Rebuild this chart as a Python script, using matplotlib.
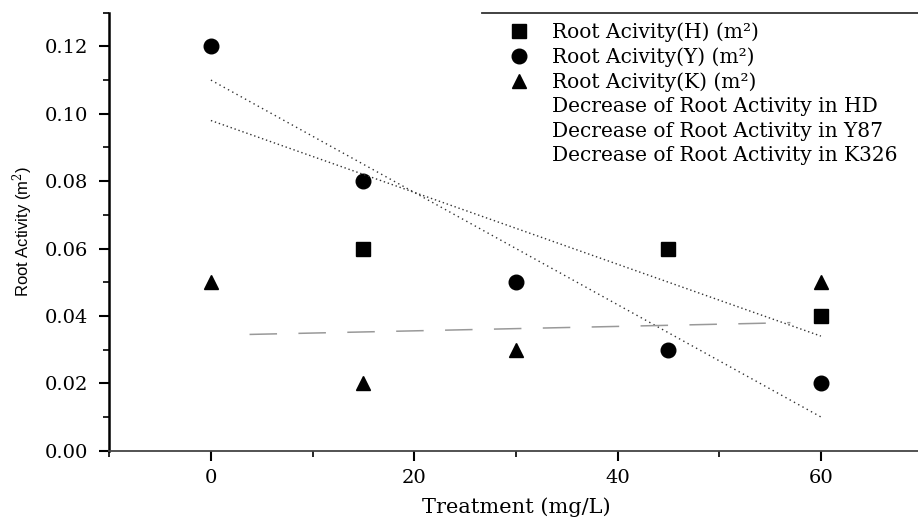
import matplotlib
matplotlib.use('Agg')
import matplotlib.pyplot as plt
from matplotlib.lines import Line2D

plt.rcParams['font.family'] = 'DejaVu Serif'
plt.rcParams['mathtext.fontset'] = 'dejavuserif'

# measured points
h_x = [15, 45, 60]
h_y = [0.06, 0.06, 0.04]
y_x = [0, 15, 30, 45, 60]
y_y = [0.12, 0.08, 0.05, 0.03, 0.02]
k_x = [0, 15, 30, 60]
k_y = [0.05, 0.02, 0.03, 0.05]

# trend lines (end points)
hd_x = [0, 60]
hd_y = [0.098, 0.034]
y87_x = [0, 60]
y87_y = [0.11, 0.01]
k326_x = [3.8, 57]
k326_y = [0.0345, 0.038]

labels = ['Root Acivity(H) (m²)', 'Root Acivity(Y) (m²)', 'Root Acivity(K) (m²)',
          'Decrease of Root Activity in HD', 'Decrease of Root Activity in Y87',
          'Decrease of Root Activity in K326']

fig = plt.figure(figsize=(9.18, 5.18), dpi=100)
ax = fig.add_axes([0.119, 0.130, 0.886, 0.8455])

p1, = ax.plot(h_x, h_y, 's', color='black', markersize=9.5, label=labels[0])
p2, = ax.plot(y_x, y_y, 'o', color='black', markersize=10.5, label=labels[1])
p3, = ax.plot(k_x, k_y, '^', color='black', markersize=10.5, label=labels[2])
l1, = ax.plot(hd_x, hd_y, color='#333333', lw=1, linestyle=(0, (1, 2)), label=labels[3])
l2, = ax.plot(y87_x, y87_y, color='#333333', lw=1, linestyle=(0, (1, 2.5)), label=labels[4])
l3, = ax.plot(k326_x, k326_y, color='#999999', lw=1.1, linestyle=(0, (18, 14)), label=labels[5])

ax.set_xlim(-10, 70)
ax.set_ylim(0, 0.13)
ax.set_xticks([0, 20, 40, 60])
ax.set_xticks([-10, 10, 30, 50, 70], minor=True)
ax.set_yticks([0.0, 0.02, 0.04, 0.06, 0.08, 0.10, 0.12])
ax.set_yticklabels(['0.00', '0.02', '0.04', '0.06', '0.08', '0.10', '0.12'])
ax.set_yticks([0.01, 0.03, 0.05, 0.07, 0.09, 0.11, 0.13], minor=True)
ax.tick_params(which='major', direction='out', length=7, width=1.5, labelsize=14, pad=6)
ax.tick_params(axis='y', which='major', pad=8)
ax.tick_params(which='minor', direction='out', length=4, width=1.2)

ax.spines['top'].set_visible(False)
ax.spines['right'].set_visible(False)
ax.spines['left'].set_linewidth(1.8)
ax.spines['bottom'].set_linewidth(1.3)
ax.spines['bottom'].set_color('#444444')

ax.set_xlabel('Treatment (mg/L)', fontsize=15, labelpad=8)
ax.set_ylabel('Root Activity (m$^2$)', fontsize=12, family='Liberation Sans', labelpad=7)

leg = ax.legend(handles=[p1, p2, p3, l1, l2, l3], loc='upper left',
                bbox_to_anchor=(505 / 918, 1 - 22 / 518), bbox_transform=fig.transFigure,
                frameon=False, fontsize=14.5, handlelength=1.4, handletextpad=0.95,
                labelspacing=0.27, borderaxespad=0, borderpad=0)
for h in leg.legend_handles[3:]:
    h.set_visible(False)

# top border of the legend box
fig.add_artist(Line2D([482 / 918, 1.0], [1 - 12.7 / 518, 1 - 12.7 / 518],
                      transform=fig.transFigure, color='#333333', lw=1.3))

fig.savefig('out.png', dpi=100)
